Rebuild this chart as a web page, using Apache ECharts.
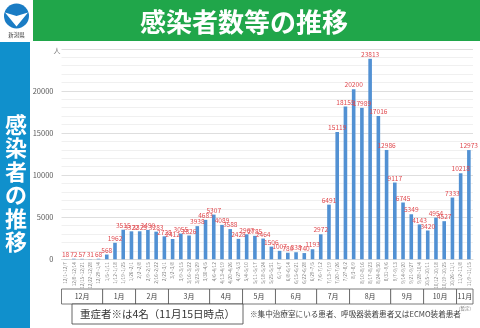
<!DOCTYPE html>
<html>
<head>
<meta charset="utf-8">
<script src="https://cdn.jsdelivr.net/npm/echarts@6/dist/echarts.min.js"></script>
<style>
  html, body { margin: 0; padding: 0; background: #fff; }
  #chart { width: 480px; height: 328px; }
</style>
</head>
<body>
<div id="chart"></div>
<script>
// Weekly periods (Wednesday to Tuesday)
const weeks = [
  '12/1~12/7', '12/8~12/14', '12/15~12/21', '12/22~12/28', '12/29~1/4',
  '1/5~1/11', '1/12~1/18', '1/19~1/25', '1/26~2/1',
  '2/2~2/8', '2/9~2/15', '2/16~2/22', '2/23~3/1',
  '3/2~3/8', '3/9~3/15', '3/16~3/22', '3/23~3/29', '3/30~4/5',
  '4/6~4/12', '4/13~4/19', '4/20~4/26', '4/27~5/3',
  '5/4~5/10', '5/11~5/17', '5/18~5/24', '5/25~5/31',
  '6/1~6/7', '6/8~6/14', '6/15~6/21', '6/22~6/28', '6/29~7/5',
  '7/6~7/12', '7/13~7/19', '7/20~7/26', '7/27~8/2',
  '8/3~8/9', '8/10~8/16', '8/17~8/23', '8/24~8/30', '8/31~9/6',
  '9/7~9/13', '9/14~9/20', '9/21~9/27', '9/28~10/4',
  '10/5~10/11', '10/12~10/18', '10/19~10/25', '10/26~11/1',
  '11/2~11/8', '11/9~11/15'
];

// New cases per week
const cases = [
  18, 72, 57, 31, 68,
  568, 1962, 3515, 3322,
  3325, 3490, 3283, 2728,
  2412, 3055, 2826, 3938, 4683,
  5307, 4089, 3588, 2428,
  2967, 2785, 2464, 1506,
  1007, 780, 838, 740, 1193,
  2972, 6491, 15119, 18155,
  20200, 17989, 23813, 17016, 12986,
  9117, 6745, 5349, 4143,
  3420, 4954, 4527, 7333,
  10218, 12973
];

// Month row under the axis: name and number of weeks in it
const months = ['12月', '1月', '2月', '3月', '4月', '5月', '6月', '7月', '8月', '9月', '10月', '11月'];
const monthWeeks = [5, 4, 4, 5, 4, 4, 5, 4, 5, 4, 4, 2];

const yTicks = [0, 5000, 10000, 15000, 20000];
const yMax = 25000;

const FONT = '"Noto Sans CJK JP", "Noto Sans", sans-serif';
const chart = echarts.init(document.getElementById('chart'), null, { renderer: 'canvas' });

const GRID = { left: 61.5, right: 7, top: 48.8, bottom: 68.7 };

chart.setOption({
  animation: false,
  backgroundColor: '#ffffff',
  textStyle: { fontFamily: FONT },
  grid: GRID,
  xAxis: {
    type: 'category',
    data: weeks,
    axisTick: { show: false },
    axisLine: { lineStyle: { color: '#d9d9d9', width: 1 } },
    axisLabel: {
      interval: 0, rotate: 90, fontSize: 4.6, color: '#7f7f7f', margin: 3, fontFamily: FONT
    }
  },
  yAxis: {
    type: 'value',
    min: 0, max: yMax, interval: 5000,
    axisLine: { show: false },
    axisTick: { show: false },
    axisLabel: {
      fontSize: 7.5, color: '#595959', margin: 8, fontFamily: FONT,
      formatter: v => (yTicks.indexOf(v) >= 0 ? String(v) : '')
    },
    splitLine: { lineStyle: { color: '#dedede', width: 1 } },
    minorTick: { show: false, splitNumber: 5 },
    minorSplitLine: { show: true, lineStyle: { color: '#f0f0f0', width: 1 } }
  },
  series: [{
    type: 'bar',
    data: cases,
    barWidth: 3.6,
    itemStyle: { color: '#5291d3' },
    label: {
      show: true, position: 'top', distance: 1,
      fontSize: 6.6, color: '#e04a4f', fontFamily: FONT
    },
    labelLayout: { moveOverlap: 'shiftY' }
  }]
});

// Decorations: header band, side band, emblem, month table, notes
const g = [];
g.push({ type: 'rect', shape: { x: 33, y: 0, width: 447, height: 41 }, style: { fill: '#20a64a' }, silent: true });
g.push({
  type: 'text', x: 244, y: 22,
  style: { text: '感染者数等の推移', fill: '#ffffff', font: 'bold 26px ' + FONT, align: 'center', verticalAlign: 'middle' }
});
g.push({ type: 'rect', shape: { x: 0, y: 42, width: 30, height: 286 }, style: { fill: '#1090cc' }, silent: true });
g.push({
  type: 'text', x: 16, y: 183,
  style: {
    text: '感\n染\n者\nの\n推\n移', fill: '#ffffff', font: 'bold 22px ' + FONT,
    align: 'center', verticalAlign: 'middle', lineHeight: 23.5
  }
});
// emblem
g.push({ type: 'circle', shape: { cx: 16.5, cy: 16, r: 12.5 }, style: { fill: '#1a7cc4' } });
g.push({ type: 'polygon', shape: { points: [[5, 12.5], [16.5, 16], [28, 12.5], [16.5, 26.5]] }, style: { fill: '#ffffff' } });
g.push({
  type: 'text', x: 16.5, y: 34.5,
  style: { text: '新潟県', fill: '#333333', font: '5.5px ' + FONT, align: 'center', verticalAlign: 'middle' }
});
// unit
g.push({
  type: 'text', x: 57, y: 50,
  style: { text: '人', fill: '#7f7f7f', font: '7px ' + FONT, align: 'center', verticalAlign: 'middle' }
});

// month table aligned to category bands
const c0 = chart.convertToPixel({ xAxisIndex: 0 }, 0);
const c1 = chart.convertToPixel({ xAxisIndex: 0 }, 1);
const band = c1 - c0;
let idx = 0;
const rowTop = 289, rowH = 15;
months.forEach((m, i) => {
  const x0 = c0 - band / 2 + idx * band;
  const x1 = x0 + monthWeeks[i] * band;
  g.push({ type: 'rect', shape: { x: x0, y: rowTop, width: x1 - x0, height: rowH },
    style: { fill: '#ffffff', stroke: '#595959', lineWidth: 0.8 } });
  g.push({ type: 'text', x: (x0 + x1) / 2, y: rowTop + rowH / 2,
    style: { text: m, fill: '#404040', font: '7px ' + FONT, align: 'center', verticalAlign: 'middle' } });
  idx += monthWeeks[i];
});
const tableRight = c0 - band / 2 + idx * band;
g.push({ type: 'text', x: tableRight - 2, y: rowTop + rowH + 4,
  style: { text: '(暫定)', fill: '#7f7f7f', font: '4.5px ' + FONT, align: 'right', verticalAlign: 'middle' } });

// severe case note
g.push({ type: 'rect', shape: { x: 72, y: 304, width: 171, height: 20 },
  style: { fill: '#ffffff', stroke: '#404040', lineWidth: 0.8 } });
g.push({ type: 'text', x: 157.5, y: 314,
  style: { text: '重症者※は4名（11月15日時点）', fill: '#333333', font: '10.5px ' + FONT, align: 'center', verticalAlign: 'middle' } });
g.push({ type: 'text', x: 250, y: 314,
  style: { text: '※集中治療室にいる患者、呼吸器装着患者又はECMO装着患者', fill: '#404040', font: '7.6px ' + FONT, align: 'left', verticalAlign: 'middle' } });

chart.setOption({ graphic: g });
</script>
</body>
</html>
